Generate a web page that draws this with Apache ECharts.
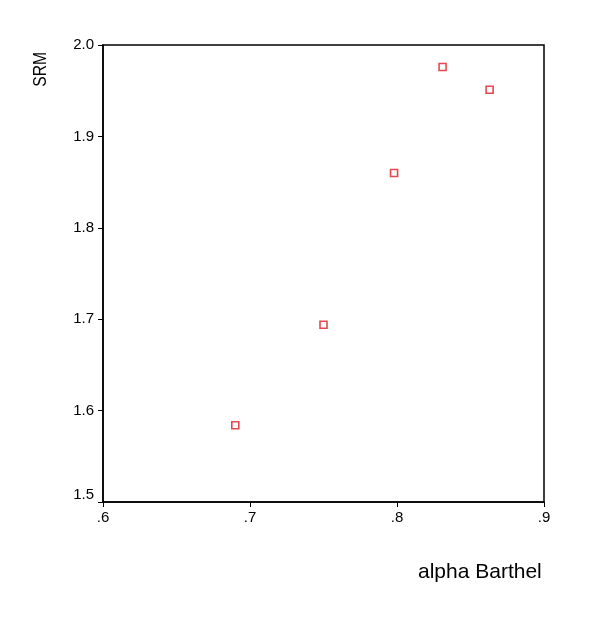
<!DOCTYPE html>
<html>
<head>
<meta charset="utf-8">
<script src="https://cdn.jsdelivr.net/npm/echarts@6/dist/echarts.min.js"></script>
<style>
  html, body { margin: 0; padding: 0; background: #fff; }
  #chart { width: 600px; height: 623px; }
</style>
</head>
<body>
<div id="chart"></div>
<script>
// alpha Barthel vs SRM
const alphaBarthel = [0.690, 0.750, 0.798, 0.831, 0.863];
const srm = [1.584, 1.694, 1.860, 1.976, 1.951];

const chart = echarts.init(document.getElementById('chart'));
const font = 'Liberation Sans, Arial, sans-serif';

const option = {
  backgroundColor: '#fff',
  animation: false,
  grid: {
    left: 103, top: 45, right: 56, bottom: 121,
    show: true,
    borderColor: '#000',
    borderWidth: 1.5
  },
  xAxis: {
    type: 'value',
    min: 0.6, max: 0.9, interval: 0.1,
    axisLine: { show: true, onZero: false, lineStyle: { color: '#000', width: 1.5 } },
    axisTick: { show: true, length: 5, lineStyle: { color: '#000' } },
    splitLine: { show: false },
    axisLabel: {
      color: '#000', fontSize: 15, fontFamily: font, margin: 8,
      formatter: v => v.toFixed(1).replace(/^0/, '')
    }
  },
  yAxis: {
    type: 'value',
    min: 1.5, max: 2.0, interval: 0.1,
    axisLine: { show: true, onZero: false, lineStyle: { color: '#000', width: 1.5 } },
    axisTick: { show: true, length: 5, lineStyle: { color: '#000' } },
    splitLine: { show: false },
    axisLabel: {
      color: '#000', fontSize: 15, fontFamily: font, margin: 9,
      verticalAlignMinLabel: 'bottom',
      formatter: v => v.toFixed(1)
    }
  },
  graphic: [
    {
      type: 'text', left: 32, top: 52, rotation: Math.PI / 2, scaleX: 0.87,
      style: { text: 'SRM', fill: '#000', font: '18px ' + font }
    },
    {
      type: 'text', left: 418, top: 562,
      style: { text: 'alpha Barthel', fill: '#000', font: '21px ' + font }
    }
  ],
  series: [{
    type: 'scatter',
    symbol: 'rect',
    symbolSize: 7,
    itemStyle: { color: '#fff', borderColor: '#dd1c24', borderWidth: 1.6 },
    data: alphaBarthel.map((x, i) => [x, srm[i]])
  }]
};

chart.setOption(option);
</script>
</body>
</html>
